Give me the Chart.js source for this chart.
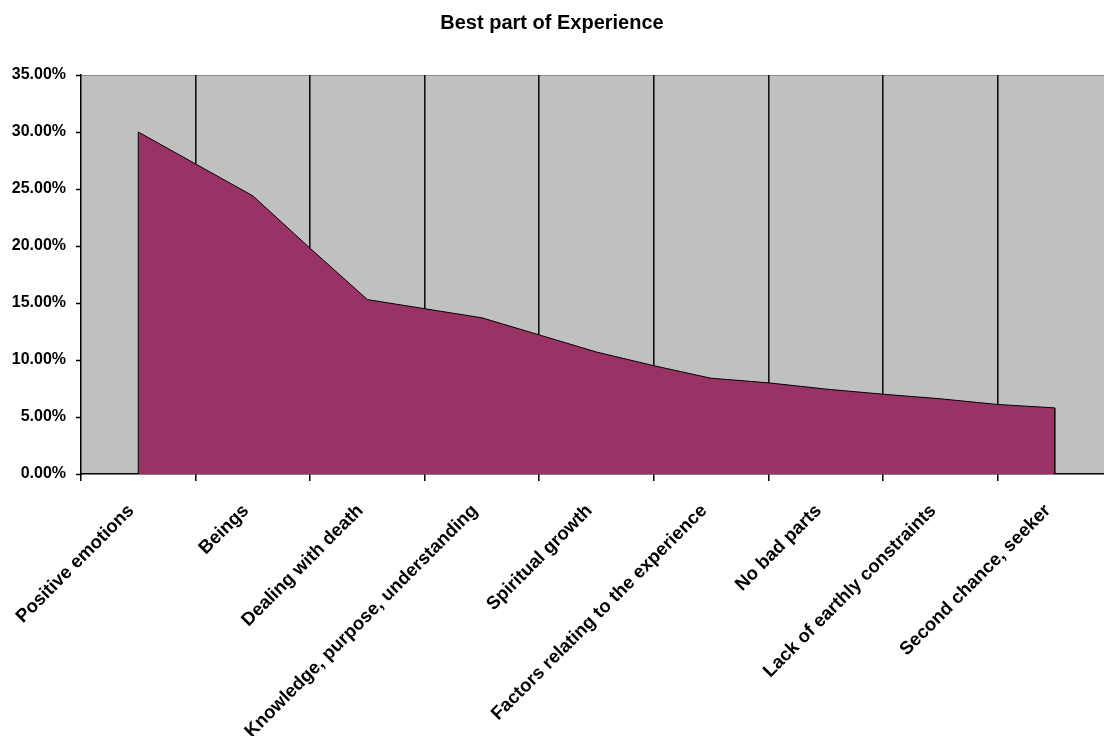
<!DOCTYPE html>
<html>
<head>
<meta charset="utf-8">
<script src="https://cdn.jsdelivr.net/npm/chart.js@4/dist/chart.umd.min.js"></script>
<style>
  html, body { margin: 0; padding: 0; background: #ffffff; }
  #wrap { width: 1104px; height: 736px; position: relative; }
</style>
</head>
<body>
<div id="wrap"><canvas id="chart"></canvas></div>
<script>
// Categories shown along the horizontal axis
const categories = [
  "Positive emotions",
  "Beings",
  "Dealing with death",
  "Knowledge, purpose, understanding",
  "Spiritual growth",
  "Factors relating to the experience",
  "No bad parts",
  "Lack of earthly constraints",
  "Second chance, seeker"
];

// Positions of the curve's vertices along the category axis (category index units)
const curvePositions = [0, 0.5, 1, 1.5, 2, 2.5, 3, 3.5, 4, 4.5, 5, 5.5, 6, 6.5, 7, 7.5, 8];

// Share of responses (%) at each vertex
const shareValues = [30.0, 27.2, 24.4, 19.8, 15.3, 14.5, 13.7, 12.2, 10.7, 9.5, 8.4, 8.0, 7.45, 7.0, 6.6, 6.1, 5.8];

// Value axis ticks (%)
const yTicks = [0, 5, 10, 15, 20, 25, 30, 35];

const FONT = "'Liberation Sans', Arial, sans-serif";

// Area outline: drop to the baseline at both ends so the sides are outlined too
const areaPoints = [{ x: curvePositions[0], y: 0 }]
  .concat(curvePositions.map((x, i) => ({ x: x, y: shareValues[i] })))
  .concat([{ x: curvePositions[curvePositions.length - 1], y: 0 }]);

// Grey plot area behind everything
const plotBackground = {
  id: 'plotBackground',
  beforeDraw(chart) {
    const { ctx, chartArea: a } = chart;
    ctx.save();
    ctx.fillStyle = '#c0c0c0';
    ctx.fillRect(a.left, a.top, a.right - a.left, a.bottom - a.top);
    ctx.strokeStyle = '#8c8c8c';
    ctx.lineWidth = 1;
    ctx.beginPath();
    ctx.moveTo(a.left, Math.round(a.top) + 0.5);
    ctx.lineTo(a.right, Math.round(a.top) + 0.5);
    ctx.stroke();
    ctx.restore();
  }
};

const isBoundary = v => Math.abs(v % 1) > 1e-9;

new Chart(document.getElementById('chart'), {
  type: 'line',
  data: {
    datasets: [{
      data: areaPoints,
      fill: 'origin',
      backgroundColor: '#993366',
      borderColor: '#000000',
      borderWidth: 1,
      tension: 0,
      pointRadius: 0,
      pointHoverRadius: 0
    }]
  },
  options: {
    responsive: true,
    maintainAspectRatio: false,
    animation: false,
    layout: { padding: 0 },
    plugins: {
      legend: { display: false },
      tooltip: { enabled: false },
      title: {
        display: true,
        text: 'Best part of Experience',
        color: '#000000',
        font: { family: FONT, size: 20, weight: 'bold' },
        padding: { top: 11, bottom: 40 }
      }
    },
    scales: {
      x: {
        type: 'linear',
        min: -0.5,
        max: 8.43,
        afterBuildTicks(scale) {
          const t = [];
          for (let v = -0.5; v <= categories.length - 1 + 1e-9; v += 0.5) t.push({ value: v });
          scale.ticks = t;
        },
        afterFit(scale) { scale.height = 262; },
        grid: {
          drawOnChartArea: true,
          color: ctx => (ctx.tick && isBoundary(ctx.tick.value) && ctx.tick.value > 0) ? '#111111' : 'rgba(0,0,0,0)',
          lineWidth: 1.6,
          drawTicks: true,
          tickLength: 7,
          tickWidth: 1.5,
          tickColor: ctx => (ctx.tick && isBoundary(ctx.tick.value)) ? '#000000' : 'rgba(0,0,0,0)'
        },
        border: { display: true, color: '#000000', width: 1.5 },
        ticks: {
          autoSkip: false,
          minRotation: 45,
          maxRotation: 45,
          padding: 19,
          labelOffset: -7,
          color: '#000000',
          font: { family: FONT, size: 18.5, weight: 'bold' },
          callback: v => Number.isInteger(v) ? categories[v] : ''
        }
      },
      y: {
        min: yTicks[0],
        max: yTicks[yTicks.length - 1],
        afterBuildTicks(scale) { scale.ticks = yTicks.map(v => ({ value: v })); },
        afterFit(scale) { scale.width = 81; },
        grid: {
          drawOnChartArea: false,
          drawTicks: true,
          tickLength: 5,
          tickWidth: 1.5,
          tickColor: '#000000'
        },
        border: { display: true, color: '#000000', width: 1.5 },
        ticks: {
          padding: 10,
          color: '#000000',
          font: { family: FONT, size: 16, weight: 'bold' },
          callback: v => v.toFixed(2) + '%'
        }
      }
    }
  },
  plugins: [plotBackground]
});
</script>
</body>
</html>
